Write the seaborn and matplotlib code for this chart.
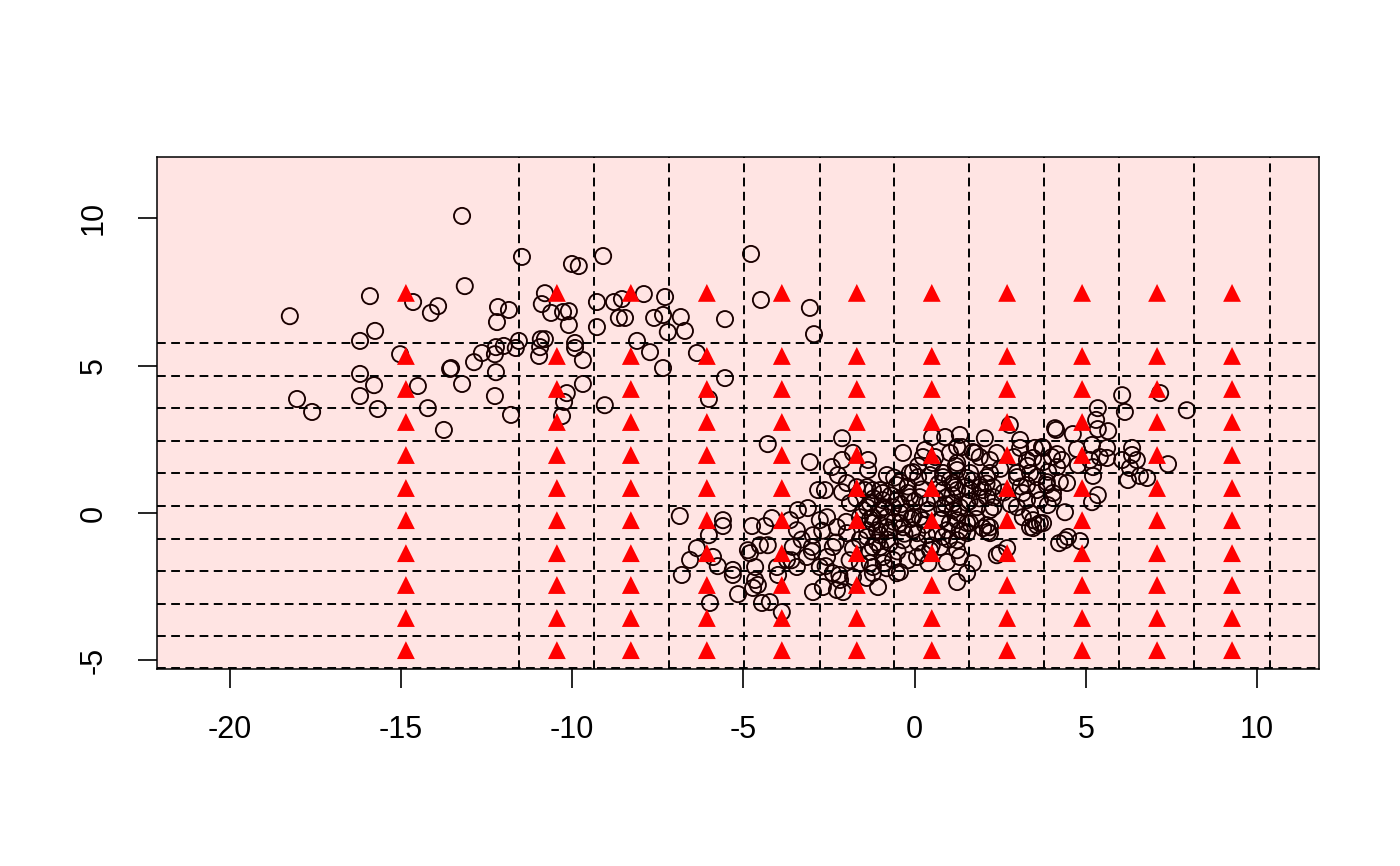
import itertools
import numpy as np
import pandas as pd
import matplotlib
matplotlib.use("Agg")
import matplotlib.pyplot as plt
import seaborn as sns

# ---- observed data points (hollow circles) ----
obs_x = [
    -13.22, -11.47, -13.14, -15.91, -14.65, -13.92, -14.13, -18.25, -12.17, -11.85,
    -12.20, -15.76, -16.20, -11.56, -11.65, -12.00, -12.23, -12.26, -12.64, -12.87,
    -13.54, -13.57, -15.03, -16.20, -15.79, -14.51, -13.22, -12.23, -16.20, -12.26,
    -18.04, -17.60, -15.68, -14.22, -11.79, -13.75,
    -10.01, -9.81, -9.10, -4.78, -10.80, -10.89, -10.62, -10.27, -10.10, -10.10,
    -9.28, -9.28, -8.78, -8.55, -7.91, -7.29, -8.64, -8.46, -7.61, -7.35,
    -6.83, -7.21, -6.71, -5.54, -4.49, -10.92, -10.80, -10.94, -10.97, -9.92,
    -9.92, -9.69, -8.11, -7.73, -6.36, -7.35, -5.54, -9.69, -10.16, -10.24,
    -10.30, -9.05, -6.01, -4.29, -3.06, -2.94,
    -2.12, -3.06, -2.42, -1.80, -1.36, -1.36, -2.12, -2.24, -2.82, -2.62,
    -2.12, -1.98, -1.45, -6.86, -5.60, -5.60, -6.01, -6.36, -5.89, -5.75,
    -6.56, -6.80, -5.31, -5.31, -5.16, -5.98, -4.75, -4.37, -4.17, -4.29,
    -4.52, -4.87, -4.81, -4.66, -4.66, -4.58, -4.72, -4.46, -4.23, -3.88,
    -3.64, -3.44, -3.41, -3.12, -3.56, -3.73, -4.02, -3.99, -3.44, -3.15,
    -3.00, -2.97, -2.77, -2.56, -2.27, -1.98, -2.39, -2.56, -2.77, -2.39,
    -2.18, -2.68, -2.97, -2.27, -2.09, -1.60, -1.39, -1.22, -1.60, -1.80,
    -1.22, -1.31, -1.89, -1.69,
    -0.34, 0.89, 1.32, 1.38, 1.70, 2.05, 0.51, 0.24, 0.53, 1.24,
    2.40, 2.78, 3.08, 3.28, 3.51, 3.72, 4.10, 4.01, 4.16, -0.81,
    -1.39, -1.01, -0.52, -0.14, 0.10, 0.45, 0.83, 1.03, 1.53, 1.24,
    0.83, 2.20, 2.29, 1.91, 2.99, 3.28, 3.57, 3.86, 4.04, 3.66,
    3.28, 2.99, 3.16, 3.46, 3.46, 2.11, 1.82, 1.53, 1.12, 0.80,
    0.36, -0.14, -0.52, -0.93, -1.22, -0.81, -0.43, -0.05, 0.24, -0.34,
    -0.72, -1.10, -1.39, 0.07, 0.65, 1.03, 1.32, 1.53, 2.20, 2.14,
    1.24, 0.83, 0.74, 1.24, 1.32, -0.34, -0.72, -1.01, -1.31, -1.31,
    -0.93, -0.63, -0.43, -0.81, -1.22, -1.07, 0.07, 0.24, 1.70, 1.53,
    1.24, 2.40, 2.70, 4.22,
    6.06, 7.17, 6.14, 7.95, 5.35, 5.30, 5.35, 5.65, 4.13, 4.62,
    4.74, 5.18, 5.62, 5.41, 5.62, 5.12, 4.77, 5.21, 5.21, 4.16,
    3.75, 3.75, 6.06, 6.35, 6.35, 6.49, 6.29, 6.58, 6.79, 6.23,
    7.40, 3.86, 4.24, 4.45, 4.04, 3.89, 4.39, 5.35, 5.18, 3.66,
    4.39, 4.48, 4.83,
    0.30, 1.03, -0.05, -0.43, 0.83, 1.12, -1.22, -0.93, -0.20, 0.15,
    0.94, -1.39, -1.01, -0.63, -0.23, 0.15, 0.74, 1.12, -1.22, -0.81,
    -0.43, -0.05, 0.94, -1.01, 0.36,
    1.24, 1.76, 3.08, 3.46, 1.24, 1.62, 2.11, 2.99, 3.37, 1.18,
    1.62, 2.00, 2.29, 3.16, 3.57, 1.32, 2.20, 3.37, 1.24, 1.62,
    2.11, 3.37, 3.75, 1.53, 2.20, 2.00, 3.57, 2.49, 0.94, -0.52,
    0.45,
    -2.30, -2.00, -1.80, -1.60, -1.50, -1.30, -1.20, -1.10, -1.00, -0.90,
    -0.80, -0.70, -0.60, -0.50, -0.40, -0.30, -0.20, -0.10, 0.00, 0.10,
    0.20, 0.30, 0.40, 0.50, 0.60, 0.70, 0.80, 0.90, 1.00, 1.10,
    1.20, 1.30, 1.40, 1.50, 1.60, 1.70, 1.80, 1.90, 2.10, 2.30,
    2.50, 2.60, 2.80, 2.90, 3.10, -2.60, -2.20, -1.90, -1.40, -0.90,
    -0.20, 0.40, -3.30, -3.00, -2.70, -3.60, -1.70, -0.60, 0.10, 0.60,
    3.90, 4.30, 3.30, 2.20, 1.90,
]
obs_y = [
    10.08, 8.69, 7.70, 7.36, 7.16, 7.02, 6.79, 6.68, 6.99, 6.89,
    6.48, 6.18, 5.84, 5.84, 5.60, 5.67, 5.63, 5.39, 5.43, 5.12,
    4.92, 4.89, 5.39, 4.72, 4.34, 4.31, 4.38, 4.78, 3.97, 3.97,
    3.87, 3.43, 3.53, 3.56, 3.33, 2.82,
    8.45, 8.38, 8.72, 8.79, 7.46, 7.09, 6.79, 6.82, 6.85, 6.38,
    7.16, 6.31, 7.16, 7.26, 7.43, 7.33, 6.62, 6.62, 6.62, 6.72,
    6.65, 6.14, 6.18, 6.58, 7.23, 5.90, 5.90, 5.63, 5.33, 5.77,
    5.60, 5.19, 5.84, 5.46, 5.43, 4.92, 4.58, 4.38, 4.07, 3.77,
    3.29, 3.66, 3.87, 2.34, 6.96, 6.07,
    2.54, 1.73, 1.56, 2.04, 1.80, 1.46, 1.80, 1.29, 0.78, 0.78,
    0.71, 1.02, 0.78, -0.10, -0.24, -0.44, -0.75, -1.19, -1.49, -1.80,
    -1.59, -2.10, -1.93, -2.10, -2.75, -3.05, -0.44, -0.44, -0.17, -1.09,
    -1.09, -1.26, -1.36, -1.83, -2.27, -2.44, -2.54, -3.05, -3.02, -3.36,
    -0.24, -0.58, 0.10, 0.17, -1.15, -1.59, -1.83, -2.10, -1.83, -1.49,
    -1.15, -0.75, -0.24, -0.14, -0.48, -0.68, -1.15, -1.49, -1.83, -2.04,
    -2.27, -2.51, -2.68, -2.61, -2.68, -0.14, -0.58, -1.15, -1.70, -2.17,
    -1.83, 0.34, 0.34, 0.88,
    2.04, 2.58, 2.65, 2.24, 2.07, 2.54, 2.58, 1.90, 1.70, 1.70,
    2.04, 2.99, 2.48, 1.80, 2.21, 2.24, 2.88, 1.90, 1.56, 1.29,
    0.88, 0.78, 0.95, 1.36, 1.22, 1.29, 1.36, 1.12, 1.19, 0.78,
    0.78, 1.36, 0.88, 0.88, 1.36, 0.95, 1.22, 0.95, 0.68, 0.44,
    0.44, 0.20, -0.14, -0.24, -0.51, 0.54, 0.20, 0.34, 0.34, 0.17,
    0.34, 0.54, 0.44, 0.44, -0.14, -0.14, 0.00, -0.14, -0.24, -0.48,
    -0.58, -0.58, -0.81, -0.68, -0.68, -0.34, -0.58, -0.34, -0.48, -0.64,
    -0.92, -0.81, -1.15, -1.26, -1.49, -0.92, -1.02, -1.15, -1.32, -1.70,
    -1.49, -1.59, -2.00, -1.87, -2.04, -2.51, -1.49, -1.36, -1.70, -2.04,
    -2.34, -1.43, -1.19, -1.02,
    4.00, 4.07, 3.43, 3.49, 3.56, 3.16, 2.85, 2.78, 2.82, 2.68,
    2.17, 2.31, 2.21, 1.90, 1.87, 1.80, 1.63, 1.56, 1.26, 2.00,
    2.21, 1.73, 1.80, 2.21, 1.97, 1.80, 1.53, 1.26, 1.19, 1.12,
    1.66, 1.05, 1.05, 1.02, 0.51, 0.27, 0.03, 0.61, 0.37, -0.34,
    -0.92, -0.81, -0.95,
    2.14, 2.04, 1.39, 1.05, 1.22, 1.02, 0.78, 0.68, 0.68, 0.54,
    0.54, 0.20, 0.10, 0.20, 0.03, -0.14, -0.24, 0.10, -0.34, -0.48,
    -0.34, -0.58, -0.58, -0.75, -0.75,
    2.24, 2.04, 2.21, 1.87, 1.46, 1.36, 1.22, 1.22, 1.36, 0.88,
    0.78, 0.78, 0.54, 0.68, 0.78, 0.20, 0.10, 0.00, -0.24, -0.34,
    -0.41, -0.48, -0.34, -0.68, -0.68, -0.51, -0.41, -1.36, -1.66, -2.04,
    -1.26,
    -1.00, -0.30, -1.20, -0.90, 0.10, -0.20, 0.50, -1.00, -0.40, 0.20,
    -0.90, 0.60, -0.30, -1.30, 0.30, -0.70, 0.90, -0.20, 0.40, -1.00,
    0.80, -0.40, 0.10, -1.10, 0.50, 1.00, -0.20, 0.30, -0.90, 0.60,
    1.60, 0.00, -0.60, 0.90, 0.40, 1.10, -0.20, 0.50, 1.00, 0.20,
    1.50, 0.70, 0.30, 1.90, 0.90, -1.80, -2.10, -1.60, -2.20, -1.70,
    -1.60, -1.70, -0.90, -1.30, -0.60, -1.60, 0.50, 1.20, 1.60, 1.90,
    1.40, 1.80, 1.60, 1.80, 1.90,
]

# ---- prediction grid (red triangles) ----
tri_x = [-14.86, -10.45, -8.29, -6.07, -3.88, -1.69, 0.50, 2.70, 4.89, 7.08, 9.27]
tri_y = [7.47, 5.33, 4.21, 3.09, 1.97, 0.85, -0.24, -1.36, -2.44, -3.56, -4.65]

# ---- dashed grid lines ----
vlines = [-11.56, -9.37, -7.18, -4.99, -2.77, -0.60, 1.59, 3.78, 5.97, 8.16, 10.38]
hlines = [5.77, 4.65, 3.56, 2.44, 1.36, 0.24, -0.88, -1.97, -3.09, -4.17, -5.26]

x_ticks = [-20, -15, -10, -5, 0, 5, 10]
y_ticks = [-5, 0, 5, 10]

sns.set_theme(style="white")
plt.rcParams["font.family"] = ["Liberation Sans", "DejaVu Sans"]

obs = pd.DataFrame({"x": obs_x, "y": obs_y})
grid = pd.DataFrame(list(itertools.product(tri_x, tri_y)), columns=["x", "y"])

fig = plt.figure(figsize=(14, 8.66), dpi=100)
ax = fig.add_axes([157 / 1400, 1 - 669 / 866, (1319 - 157) / 1400, (669 - 157) / 866])
ax.set_facecolor("#FFE4E3")

sns.scatterplot(data=obs, x="x", y="y", ax=ax, marker="o", s=135,
                facecolor="none", edgecolor="#1a0000", linewidth=1.35, zorder=2)

for v in vlines:
    ax.axvline(v, color="black", lw=1.4, ls=(0, (4.5, 2.8)), zorder=3)
for h in hlines:
    ax.axhline(h, color="black", lw=1.4, ls=(0, (4.5, 2.8)), zorder=3)

sns.scatterplot(data=grid, x="x", y="y", ax=ax, marker="^", s=165,
                color="red", edgecolor="none", linewidth=0, zorder=4)

ax.set_xlim(-22.13, 11.81)
ax.set_ylim(-5.29, 12.08)
ax.set_xticks(x_ticks)
ax.set_yticks(y_ticks)
ax.set_xticklabels([str(t) for t in x_ticks])
ax.set_yticklabels([str(t) for t in y_ticks], rotation=90, va="center")
ax.set_xlabel("")
ax.set_ylabel("")
ax.tick_params(axis="both", direction="out", length=14, width=1.2,
               color="black", labelsize=22, labelcolor="black")
ax.tick_params(axis="x", pad=19)
ax.tick_params(axis="y", pad=21)
ax.tick_params(bottom=True, left=True, top=False, right=False)
for sp in ax.spines.values():
    sp.set_color("black")
    sp.set_linewidth(1.1)
    sp.set_visible(True)

fig.savefig("out.png", dpi=100)
